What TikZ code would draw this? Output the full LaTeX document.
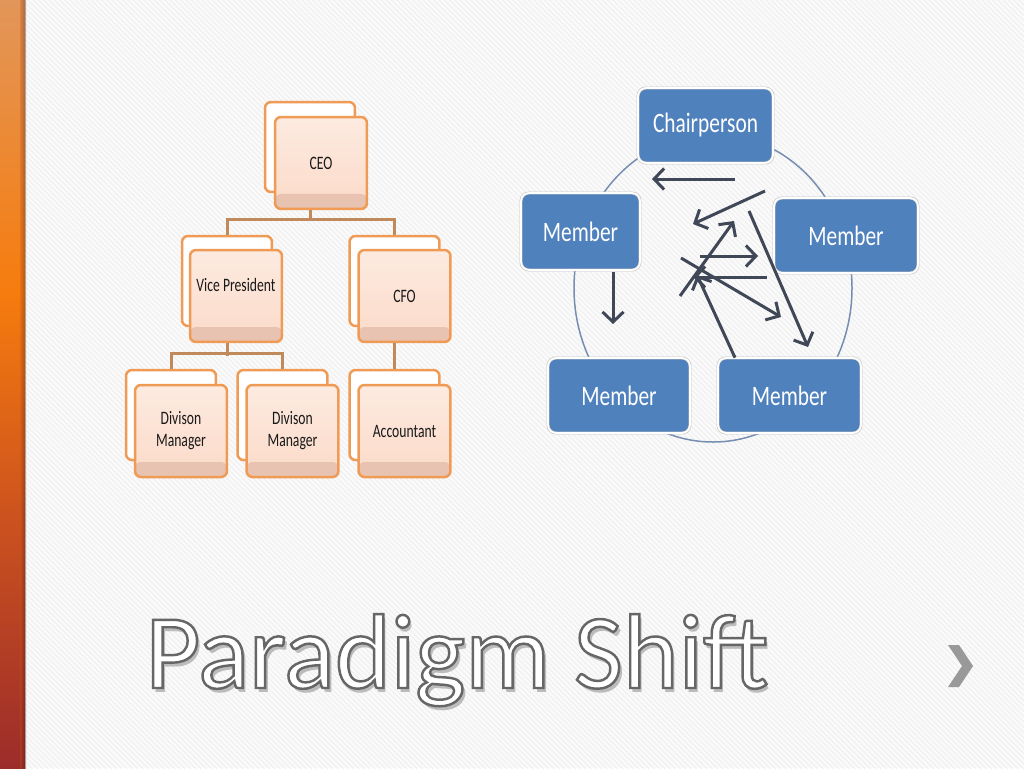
\documentclass[tikz,border=0pt]{standalone}
\usepackage{fontspec}
\setmainfont{Carlito}
\newfontfamily\orgfont[FakeStretch=0.72]{Carlito}
\newfontfamily\boardfont[FakeStretch=0.76]{Carlito}
\usepackage{xcolor}
\usetikzlibrary{calc}
\usetikzlibrary{positioning,arrows.meta,patterns}

\definecolor{peach}{RGB}{251,218,200}
\definecolor{peachdark}{RGB}{232,195,178}
\definecolor{orgline}{RGB}{240,155,85}
\definecolor{busline}{RGB}{192,138,92}
\definecolor{boardblue}{RGB}{79,129,189}
\definecolor{ringblue}{RGB}{118,142,178}
\definecolor{arrowgray}{RGB}{64,72,88}
\definecolor{barTop}{RGB}{226,150,90}
\definecolor{barMid}{RGB}{246,124,14}
\definecolor{barLow}{RGB}{206,84,30}
\definecolor{barBot}{RGB}{156,44,42}

\pgfdeclareverticalshading{orangebar}{100bp}{color(0bp)=(barBot); color(25bp)=(barBot);
  color(42bp)=(barLow); color(56bp)=(barMid); color(75bp)=(barTop); color(100bp)=(barTop)}

\newcommand{\outlinetext}[1]{\special{pdf:literal direct 2 Tr 1.4 w 0.4 0.4 0.4 RG}#1\special{pdf:literal direct 0 Tr}}

\tikzset{
  backbox/.style={draw=orgline, line width=0.05cm, fill=white,
    rounded corners=0.12cm, minimum width=1.8cm, minimum height=1.8cm},
  frontbox/.style={draw=orgline, line width=0.05cm,
    top color=peach!55!white, bottom color=peach,
    rounded corners=0.12cm, minimum width=1.84cm, minimum height=1.84cm,
    align=center, text=black!90, font=\orgfont\fontsize{10.8}{12.5}\selectfont,
    path picture={\fill[peachdark] (path picture bounding box.south west)
      rectangle ([yshift=0.3cm]path picture bounding box.south east);}},
  link/.style={draw=busline, line width=0.06cm},
  memberbox/.style={draw=gray!45, double=white, double distance=0.035cm,
    line width=0.012cm, fill=boardblue, rounded corners=0.16cm,
    minimum height=1.5cm, text=white, font=\boardfont\fontsize{16}{18}\selectfont},
  ring/.style={draw=ringblue, line width=0.03cm},
  arr/.style={draw=arrowgray, line width=0.06cm,
    -{Straight Barb[length=0.2cm, width=0.42cm]}},
  titletext/.style={anchor=base, inner sep=0pt, font=\fontsize{60.5}{63}\selectfont}
}

\begin{document}
\begin{tikzpicture}[x=0.02cm, y=-0.02cm]
  \useasboundingbox (0,0) rectangle (1024,768);
  \fill[black!2] (0,0) rectangle (1024,768);
  \fill[pattern=north west lines, pattern color=black!7] (0,0) rectangle (1024,768);
  \shade[shading=orangebar] (0,0) rectangle (25,768);
  \shade[left color=barLow, right color=black, opacity=0.3] (20,0) rectangle (26,768);

  \node[backbox] (ceob) at (310,147) {};
  \node[frontbox] (ceo) at ($(ceob)+(11,16)$) {CEO};
  \node[backbox] (vpb) at (227,281) {};
  \node[frontbox] (vp) at ($(vpb)+(9,15)$) {\raisebox{0.44cm}{Vice President}};
  \node[backbox] (cfob) at (394.5,281) {};
  \node[frontbox] (cfo) at ($(cfob)+(10,15)$) {CFO};
  \node[backbox] (dmab) at (171,415) {};
  \node[frontbox] (dma) at ($(dmab)+(10,16)$) {Divison\\Manager};
  \node[backbox] (dmbb) at (282.5,415) {};
  \node[frontbox] (dmb) at ($(dmbb)+(10,16)$) {Divison\\Manager};
  \node[backbox] (acctb) at (394.5,415) {};
  \node[frontbox] (acct) at ($(acctb)+(10,16)$) {Accountant};

  \draw[link] (ceo.south -| ceob.south) -- ++(0,11);
  \draw[link] (vpb.north) -- ++(0,-15) -| (cfob.north);
  \draw[link] (vp.south -| vpb.south) -- ++(0,13);
  \draw[link] (dmab.north) -- ++(0,-15) -| (dmbb.north);
  \draw[link] (cfo.south -| cfob.south) -- (acctb.north);

  \coordinate (hub) at (713,288);
  \draw[ring] (hub) ellipse [x radius=139, y radius=154];

  \node[memberbox, minimum width=2.7cm] (chair) at (705.5,125.5) {Chairperson};
  \node[memberbox, minimum width=2.38cm, minimum height=1.54cm] (mleft) at (580.5,231.5) {Member};
  \node[memberbox, minimum width=2.88cm] (mright) at (846,235.5) {Member};
  \node[memberbox, minimum width=2.84cm] (mbl) at (619,395.5) {Member};
  \node[memberbox, minimum width=2.86cm] (mbr) at (789.5,395.5) {Member};

  \foreach \n/\x/\y in {s1/735/179, e1/652/179, s2/765/191, e2/693/224,
      s3/749/211, e3/808/347, s4/680/296, e4/734/221, s5/700/256, e5/758/256,
      s6/767/277, e6/693/277, s7/681/258, e7/781/317, s9/613/272, e9/613/324,
      e8/697/275}
    \coordinate (\n) at (\x,\y);
  \coordinate (s8) at (mbr.north -| 735,0);
  \foreach \i in {1,...,9}
    \draw[arr] (s\i) -- (e\i);

  \coordinate (titlepos) at (457,688);
  \node[titletext, text=black!45, opacity=0.55] (titleshadow) at ($(titlepos)+(3,4)$) {Paradigm Shift};
  \node[titletext, text=white] (title) at (titlepos) {\outlinetext{Paradigm Shift}};

  \fill[black!40] (948,645) -- (959,645) -- (973,666) -- (959,687) -- (948,687) -- (962,666) -- cycle;
\end{tikzpicture}
\end{document}
